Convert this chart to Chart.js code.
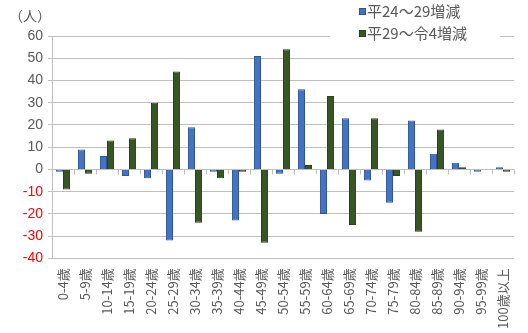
<!DOCTYPE html>
<html>
<head>
<meta charset="utf-8">
<script src="https://cdn.jsdelivr.net/npm/chart.js@4"></script>
<style>
  body { margin: 0; background: #fff; }
  #wrap { position: relative; width: 528px; height: 333px; }
  #legend {
    position: absolute; left: 330px; top: 0px; width: 170px; height: 42px;
    background: #fff; font-family: "Noto Sans CJK JP", sans-serif; font-size: 15px; color: #595959;
  }
  #legend div { position: absolute; left: 29px; white-space: nowrap; line-height: 22px; }
  #legend span { display: inline-block; width: 5px; height: 5px; margin-right: 1px; vertical-align: 2px; }
</style>
</head>
<body>
<div id="wrap">
  <canvas id="chart" width="528" height="333"></canvas>
  <div id="legend">
    <div style="top:0px"><span style="background:#4472C4;border:1px solid #2F5597"></span>平24～29増減</div>
    <div style="top:22px"><span style="background:#375623;border:1px solid #2A4119"></span>平29～令4増減</div>
  </div>
</div>
<script>
const ageGroups = ["0-4歳", "5-9歳", "10-14歳", "15-19歳", "20-24歳", "25-29歳", "30-34歳",
    "35-39歳", "40-44歳", "45-49歳", "50-54歳", "55-59歳", "60-64歳", "65-69歳", "70-74歳",
    "75-79歳", "80-84歳", "85-89歳", "90-94歳", "95-99歳", "100歳以上"];
const seriesNames = ["平24～29増減", "平29～令4増減"];
const changeH24toH29 = [-1, 9, 6, -3, -4, -32, 19, -1, -23, 51, -2, 36, -20, 23, -5, -15, 22, 7, 3, -1, 1];
const changeH29toR4 = [-9, -2, 13, 14, 30, 44, -24, -4, -1, -33, 54, 2, 33, -25, 23, -3, -28, 18, 1, 0, -1];

const gridColor = "#BFBFBF";
const textColor = "#595959";

// unit label and the small tick marks along the zero line
const extras = {
    id: "extras",
    beforeDatasetsDraw(chart) {
        const ctx = chart.ctx;
        const x = chart.scales.x, y = chart.scales.y;
        const y0 = y.getPixelForValue(0);
        ctx.save();
        ctx.strokeStyle = gridColor;
        ctx.lineWidth = 1;
        for (let i = 0; i <= ageGroups.length; i++) {
            const px = Math.round(x.left + (x.right - x.left) * i / ageGroups.length) + 0.5;
            ctx.beginPath();
            ctx.moveTo(px, y0);
            ctx.lineTo(px, y0 + 5);
            ctx.stroke();
        }
        ctx.restore();
    },
    afterDraw(chart) {
        const ctx = chart.ctx;
        ctx.save();
        ctx.fillStyle = textColor;
        ctx.font = '14px "Noto Sans CJK JP"';
        ctx.textBaseline = "middle";
        ctx.fillText("（人）", 9, 16);
        ctx.restore();
    }
};

new Chart(document.getElementById("chart"), {
    type: "bar",
    data: {
        labels: ageGroups,
        datasets: [
            {
                label: seriesNames[0],
                data: changeH24toH29,
                backgroundColor: "#4472C4",
                borderColor: "#2F5597",
                borderWidth: 1,
                barPercentage: 1.0,
                categoryPercentage: 0.64
            },
            {
                label: seriesNames[1],
                data: changeH29toR4,
                backgroundColor: "#375623",
                borderColor: "#2A4119",
                borderWidth: 1,
                barPercentage: 1.0,
                categoryPercentage: 0.64
            }
        ]
    },
    options: {
        responsive: false,
        animation: false,
        layout: { padding: { top: 36, right: 14, left: 0, bottom: 2 } },
        plugins: {
            legend: { display: false },
            tooltip: { enabled: false }
        },
        scales: {
            x: {
                grid: { display: false },
                border: { display: false },
                ticks: {
                    minRotation: 90,
                    maxRotation: 90,
                    color: textColor,
                    font: { family: "Noto Sans CJK JP", size: 13 },
                    padding: 2
                }
            },
            y: {
                min: -40,
                max: 60,
                afterFit(scale) { scale.width = 52; },
                grid: { color: gridColor, tickLength: 4 },
                border: { color: gridColor },
                ticks: {
                    stepSize: 10,
                    padding: 5,
                    font: { family: "Liberation Sans", size: 14 },
                    color: (c) => c.tick.value < 0 ? "#FF0000" : textColor
                }
            }
        }
    },
    plugins: [extras]
});
</script>
</body>
</html>
